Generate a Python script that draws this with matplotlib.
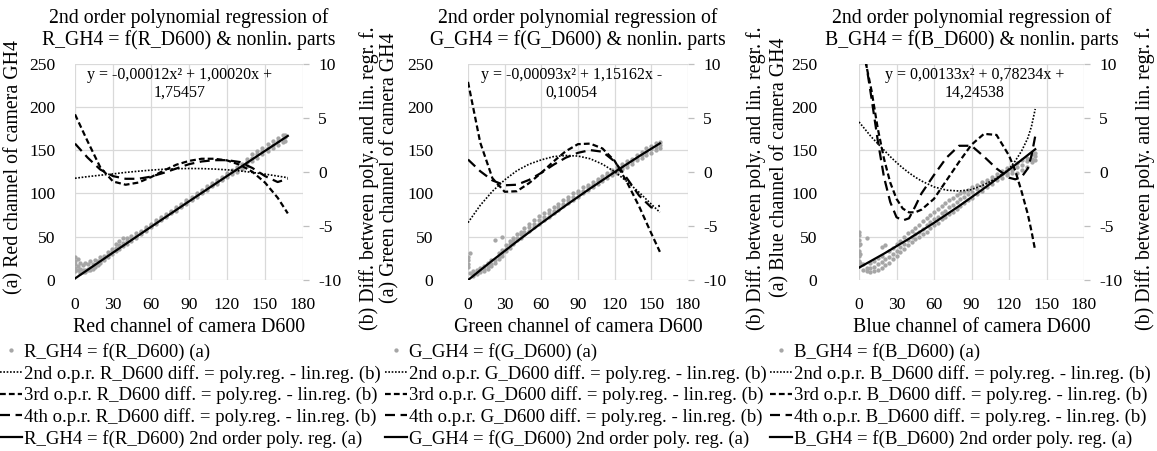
import matplotlib.pyplot as plt
import numpy as np

plt.rcParams['font.family'] = ['Liberation Serif', 'DejaVu Serif']
plt.rcParams['axes.unicode_minus'] = False

# ---------------- data ----------------
channels = ["Red", "Green", "Blue"]
letters = ["R", "G", "B"]
equations = ["y = -0,00012x\u00b2 + 1,00020x +\n1,75457",
             "y = -0,00093x\u00b2 + 1,15162x -\n0,10054",
             "y = 0,00133x\u00b2 + 0,78234x +\n14,24538"]

# scatter clouds: x -> list of GH4 values
r_cloud = {0: [10, 14, 18, 22, 26], 2: [12, 16, 24], 4: [8, 13, 20], 6: [9, 12, 17],
           8: [9, 11, 20], 10: [11, 13, 18], 12: [12, 14, 22], 14: [13, 15, 18],
           16: [15, 17, 23], 18: [17, 19, 22], 20: [20, 22, 26], 23: [23, 25, 28],
           26: [26, 29, 32], 29: [30, 33, 36], 32: [33, 37, 41], 35: [36, 40, 45],
           38: [39, 43, 48], 41: [42, 45, 49], 44: [45, 48, 51], 48: [49, 51, 54],
           52: [53, 55, 57], 56: [57, 59, 61], 60: [61, 63, 65], 64: [65, 67, 69],
           68: [69, 71, 73], 72: [73, 74, 76], 76: [77, 78, 80], 80: [80, 82, 84],
           84: [84, 86, 88], 88: [88, 90, 92], 92: [92, 94, 96], 96: [96, 98, 100],
           100: [100, 102, 104], 104: [104, 106, 108], 108: [108, 110, 112],
           112: [111, 113, 115], 116: [115, 117, 119], 120: [119, 121, 123],
           124: [122, 125, 127], 128: [125, 128, 131], 132: [128, 131, 134],
           136: [132, 136, 140], 140: [137, 141, 145], 144: [141, 145, 149],
           148: [145, 149, 153], 152: [149, 153, 157], 156: [152, 156, 161],
           160: [156, 160, 164], 164: [159, 163, 167], 166: [161, 165, 168]}

g_cloud = {0: [15, 19, 23, 27], 2: [8, 31], 4: [5, 7, 10], 7: [7, 9, 12],
           10: [9, 11, 14], 13: [10, 13, 16], 16: [13, 16, 20], 19: [16, 19, 23],
           22: [20, 23, 46], 25: [24, 27, 31], 28: [28, 31, 35, 50], 31: [33, 36, 40],
           34: [37, 41, 45], 37: [42, 45, 49], 40: [46, 49, 53], 43: [49, 53, 56],
           46: [53, 56, 60], 50: [57, 61, 65], 54: [61, 65, 69], 58: [65, 69, 74],
           62: [69, 73, 77], 66: [73, 77, 81], 70: [77, 80, 84], 74: [81, 84, 88],
           78: [85, 88, 92], 82: [89, 92, 96], 86: [92, 96, 100], 90: [96, 100, 103],
           94: [100, 103, 107], 98: [104, 107, 110], 102: [107, 110, 113],
           106: [111, 114, 117], 110: [114, 117, 120], 114: [118, 121, 124],
           118: [121, 124, 127], 122: [124, 127, 131], 126: [128, 131, 134],
           130: [131, 134, 137], 134: [134, 137, 140], 138: [138, 141, 144],
           142: [141, 144, 148], 146: [144, 148, 152], 150: [147, 151, 155],
           154: [150, 154, 158], 157: [153, 156, 159]}

b_cloud = {0: [16, 22, 28, 34, 40, 46, 52, 55], 1: [20, 30, 42], 3: [12, 18],
           6: [10, 14, 49], 9: [9, 14, 20], 12: [10, 15, 22], 15: [12, 18, 25],
           18: [14, 21, 28, 38], 21: [17, 24, 40], 24: [20, 27, 33], 27: [24, 30, 37],
           30: [28, 34, 41], 33: [32, 38, 45], 36: [36, 42, 50], 39: [40, 46, 54],
           42: [44, 50, 57], 45: [47, 53, 60], 48: [50, 56, 64], 51: [53, 59, 68],
           54: [56, 63, 72], 57: [60, 67, 75], 60: [63, 70, 78], 63: [66, 73, 82],
           66: [70, 77, 86], 69: [73, 80, 89], 72: [76, 84, 92], 75: [79, 87, 95],
           78: [82, 90, 98], 81: [86, 93, 100], 84: [89, 96, 102], 87: [92, 99, 104],
           90: [95, 102, 107], 94: [99, 105, 110], 98: [103, 108, 113],
           102: [107, 112, 116], 106: [111, 115, 119], 110: [115, 119, 122],
           114: [118, 122, 126], 118: [121, 124, 129], 122: [123, 127, 132],
           126: [124, 130, 135], 130: [127, 133, 138], 134: [131, 137, 141],
           138: [136, 140, 145], 141: [139, 143, 147]}

# 2nd order regression lines (left axis)
r_fit_x = [0, 30, 60, 90, 120, 150, 168]
r_fit_y = [1.75, 31.65, 61.34, 90.80, 120.05, 149.08, 166.40]
g_fit_x = [0, 20, 40, 60, 80, 100, 120, 140, 157]
g_fit_y = [-0.10, 22.56, 44.48, 65.65, 86.08, 105.76, 124.70, 142.90, 157.78]
b_fit_x = [0, 20, 40, 60, 80, 100, 120, 141]
b_fit_y = [14.25, 30.43, 47.67, 65.98, 85.35, 105.78, 127.28, 151.00]

# differences poly.reg - lin.reg (right axis)
r_dx = [0, 10, 20, 30, 40, 50, 60, 70, 80, 90, 100, 110, 120, 130, 140, 150, 160, 168]
r_d2 = [-0.6, -0.45, -0.32, -0.2, -0.06, 0.05, 0.15, 0.23, 0.28, 0.3, 0.29, 0.25,
        0.18, 0.08, -0.06, -0.22, -0.4, -0.55]
r_d3 = [5.3, 2.8, 0.4, -0.9, -1.2, -1.0, -0.5, 0.1, 0.65, 1.0, 1.2, 1.2, 1.05, 0.65,
        0.0, -1.0, -2.4, -3.85]
r_d4 = [2.6, 1.3, 0.2, -0.4, -0.65, -0.65, -0.45, -0.1, 0.3, 0.7, 0.95, 1.07, 1.07,
        0.9, 0.35, -0.4, -0.95, -0.65]

g_dx = [0, 10, 20, 30, 40, 50, 60, 70, 80, 90, 100, 110, 120, 130, 140, 150, 157]
g_d2 = [-4.7, -3.1, -1.8, -0.75, 0.1, 0.7, 1.1, 1.4, 1.5, 1.45, 1.2, 0.7, 0.0, -0.9,
        -1.9, -3.0, -3.75]
g_d3 = [8.3, 2.7, -0.6, -1.85, -1.8, -1.05, -0.1, 0.95, 1.9, 2.55, 2.6, 2.15, 1.0,
        -0.95, -3.2, -5.7, -7.4]
g_d4 = [1.13, 0.05, -0.8, -1.25, -1.2, -0.75, -0.1, 0.65, 1.3, 1.75, 2.0, 1.85, 0.95,
        -0.6, -2.2, -3.3, -3.15]

b_dx = [0, 5, 10, 15, 20, 25, 30, 35, 40, 45, 50, 60, 70, 80, 90, 100, 110, 120, 125,
        130, 135, 138, 141]
b_d2 = [4.6, 3.9, 3.2, 2.6, 2.0, 1.4, 0.85, 0.35, -0.1, -0.5, -0.85, -1.4, -1.7, -1.78,
        -1.65, -1.2, -0.6, 0.25, 1.0, 1.9, 3.1, 4.2, 5.8]
b_d3 = [np.nan, 10.3, 7.5, 4.0, 1.2, -1.0, -2.5, -3.4, -3.75, -3.75, -3.5, -2.5, -0.8,
        0.9, 2.5, 3.5, 3.4, 1.5, 0.1, -1.8, -3.9, -5.5, -7.3]
b_d4 = [np.nan, 10.5, 6.8, 2.9, -0.5, -2.8, -4.2, -4.5, -4.3, -3.2, -2.0, -0.3, 1.3,
        2.4, 2.4, 1.4, 0.3, -0.55, -0.7, -0.5, 0.3, 1.5, 3.3]

clouds = [r_cloud, g_cloud, b_cloud]
fits = [(r_fit_x, r_fit_y), (g_fit_x, g_fit_y), (b_fit_x, b_fit_y)]
diffs = [(r_dx, r_d2, r_d3, r_d4), (g_dx, g_d2, g_d3, g_d4), (b_dx, b_d2, b_d3, b_d4)]

# ---------------- layout ----------------
W, H = 1157, 451
ax_px = [(75, 303), (468, 688), (859, 1084)]   # left/right edge of each plot area
top_px, bot_px = 63.5, 280
ytick_pad = [14, 25, 30]
ylab_x = [-0.225, -0.31, -0.31]
y2lab_x = [1.245, 1.265, 1.225]
eq_x = [0.46, 0.47, 0.515]
leg_x = [0, 385, 770]

grey = '#a6a6a6'
gridc = '#d9d9d9'
fs_lab = 14.3
fs_tick = 12.6

fig = plt.figure(figsize=(W / 100, H / 100), dpi=100)

for i in range(3):
    l, r = ax_px[i]
    ax = fig.add_axes([l / W, 1 - bot_px / H, (r - l) / W, (bot_px - top_px) / H])
    ax2 = ax.twinx()
    ax.set_xlim(0, 180)
    ax.set_ylim(0, 250)
    ax2.set_ylim(-10, 10)
    ax.set_xticks(range(0, 181, 30))
    ax.set_yticks(range(0, 251, 50))
    ax2.set_yticks(range(-10, 11, 5))
    ax.grid(True, color=gridc, lw=0.9)
    ax.set_axisbelow(True)
    for a in (ax, ax2):
        for s in a.spines.values():
            s.set_visible(False)
    ax.tick_params(axis='both', length=0, labelsize=fs_tick)
    ax.tick_params(axis='x', pad=12)
    ax.tick_params(axis='y', pad=ytick_pad[i])
    ax2.tick_params(axis='y', length=4, width=0.9, color='#bfbfbf', pad=7,
                    labelsize=fs_tick)

    # scatter cloud
    cx, cy = [], []
    for x, ys in clouds[i].items():
        cx += [x] * len(ys)
        cy += ys
    sc, = ax.plot(cx, cy, 'o', ms=3.1, color=grey, mec='none')

    # difference curves
    dx, d2, d3, d4 = diffs[i]
    l2, = ax2.plot(dx, d2, color='black', lw=1.2, ls=(0, (1, 1)))
    l3, = ax2.plot(dx, d3, color='black', lw=1.6, ls=(0, (2.6, 1.4)))
    l4, = ax2.plot(dx, d4, color='black', lw=1.6, ls=(0, (4.5, 2.5)))

    # regression line
    fx, fy = fits[i]
    lf, = ax.plot(fx, fy, color='black', lw=1.6, zorder=5)

    ax.text(eq_x[i], 0.905, equations[i], transform=ax.transAxes, ha='center',
            va='center', fontsize=11.5, linespacing=1.15)

    c, L = channels[i], letters[i]
    ax.set_title(f"2nd order polynomial regression of\n{L}_GH4 = f({L}_D600) & nonlin. parts",
                 fontsize=14.2, pad=13, linespacing=1.15)
    ax.set_xlabel(f"{c} channel of camera D600", fontsize=fs_lab)
    ax.xaxis.set_label_coords(0.5, -0.175)
    ax.set_ylabel(f"(a) {c} channel of camera GH4", fontsize=fs_lab)
    ax.yaxis.set_label_coords(ylab_x[i], 0.52)
    ax2.set_ylabel("(b) Diff. between poly. and lin. regr. f.", fontsize=fs_lab)
    ax2.yaxis.set_label_coords(y2lab_x[i], 0.47)

    labels = [f"{L}_GH4 = f({L}_D600) (a)",
              f"2nd o.p.r. {L}_D600 diff. = poly.reg. - lin.reg. (b)",
              f"3rd o.p.r. {L}_D600 diff. = poly.reg. - lin.reg. (b)",
              f"4th o.p.r. {L}_D600 diff. = poly.reg. - lin.reg. (b)",
              f"{L}_GH4 = f({L}_D600) 2nd order poly. reg. (a)"]
    ax.legend([sc, l2, l3, l4, lf], labels, loc='upper left',
              bbox_to_anchor=(leg_x[i] / W, 1 - 343 / H), bbox_transform=fig.transFigure,
              frameon=False, fontsize=13.5, handlelength=1.15, handletextpad=0.15,
              borderpad=0, borderaxespad=0, labelspacing=0.2, numpoints=1,
              markerscale=1.0)

fig.savefig('out.png', dpi=100)
